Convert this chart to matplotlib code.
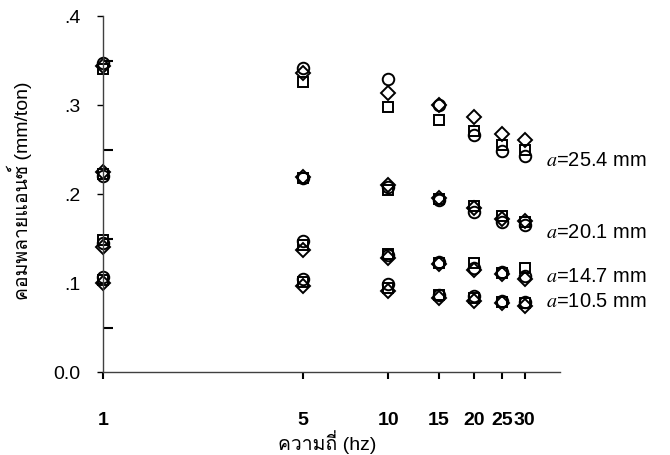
import matplotlib
matplotlib.use('Agg')
import matplotlib.pyplot as plt
from matplotlib import font_manager
from matplotlib.ticker import FixedLocator, FixedFormatter, NullFormatter

# --- datos ---
freqs = [1, 5, 10, 15, 20, 25, 30]
xtick_labels = ['1', '5', '10', '15', '20', '25', '30']

# a = 25.4 mm
a254_circle = [0.347, 0.342, 0.329, 0.300, 0.266, 0.248, 0.243]
a254_diamond = [0.344, 0.336, 0.314, 0.300, 0.286, 0.267, 0.261]
a254_square = [0.341, 0.326, 0.298, 0.283, 0.271, 0.255, 0.250]
# a = 20.1 mm
a201_circle = [0.220, 0.218, 0.208, 0.193, 0.180, 0.168, 0.165]
a201_diamond = [0.225, 0.219, 0.210, 0.195, 0.184, 0.172, 0.170]
a201_square = [0.222, 0.218, 0.205, 0.194, 0.186, 0.175, 0.168]
# a = 14.7 mm
a147_circle = [0.145, 0.147, 0.132, 0.124, 0.117, 0.112, 0.108]
a147_diamond = [0.140, 0.137, 0.128, 0.121, 0.115, 0.110, 0.105]
a147_square = [0.148, 0.143, 0.133, 0.123, 0.122, 0.111, 0.117]
# a = 10.5 mm
a105_circle = [0.107, 0.105, 0.099, 0.087, 0.085, 0.080, 0.079]
a105_diamond = [0.100, 0.097, 0.091, 0.083, 0.080, 0.077, 0.074]
a105_square = [0.103, 0.101, 0.094, 0.086, 0.083, 0.079, 0.077]

labels_a = ['25.4', '20.1', '14.7', '10.5']
label_y = [0.238, 0.157, 0.107, 0.079]

ytick_vals = [0.0, 0.1, 0.2, 0.3, 0.4]
ytick_labels = ['0.0', '.1', '.2', '.3', '.4']
yminor_vals = [0.05, 0.15, 0.25, 0.35]


def buscar_fuente_thai():
    # busca una fuente instalada que tenga glifos tailandeses
    try:
        from fontTools.ttLib import TTFont
    except ImportError:
        return None
    for f in font_manager.fontManager.ttflist:
        try:
            tt = TTFont(f.fname, fontNumber=0, lazy=True)
            cmap = tt.getBestCmap()
            if cmap and 0x0E04 in cmap:
                return f.name
        except Exception:
            continue
    return None


thai = buscar_fuente_thai()
fam = ['Liberation Sans'] + ([thai] if thai else []) + ['DejaVu Sans']
plt.rcParams['font.family'] = fam

fig = plt.figure(figsize=(6.7, 4.55), dpi=100)
ax = fig.add_axes([0.1537, 0.1824, 0.8363 - 0.1537, 0.9648 - 0.1824])

grupos = [
    (a254_circle, a254_diamond, a254_square),
    (a201_circle, a201_diamond, a201_square),
    (a147_circle, a147_diamond, a147_square),
    (a105_circle, a105_diamond, a105_square),
]
mk = dict(linestyle='none', markerfacecolor='none', markeredgecolor='black',
          markeredgewidth=1.4, clip_on=False)
for c, d, s in grupos:
    ax.plot(freqs, s, marker='s', markersize=6.8, **mk)
    ax.plot(freqs, d, marker='D', markersize=7.3, **mk)
    ax.plot(freqs, c, marker='o', markersize=8.3, **mk)

ax.set_xscale('log')
ax.set_xlim(1, 40)
ax.set_ylim(0, 0.4)

ax.xaxis.set_major_locator(FixedLocator(freqs))
ax.xaxis.set_major_formatter(FixedFormatter(xtick_labels))
ax.xaxis.set_minor_locator(FixedLocator([]))
ax.xaxis.set_minor_formatter(NullFormatter())
ax.yaxis.set_major_locator(FixedLocator(ytick_vals))
ax.yaxis.set_major_formatter(FixedFormatter(ytick_labels))
ax.yaxis.set_minor_locator(FixedLocator(yminor_vals))

for sp in ['top', 'right']:
    ax.spines[sp].set_visible(False)
for sp in ['left', 'bottom']:
    ax.spines[sp].set_color('#404040')
    ax.spines[sp].set_linewidth(1.0)

ax.tick_params(axis='x', which='major', direction='out', length=5, width=1.5,
               pad=24, labelsize=14)
for t in ax.get_xticklabels():
    t.set_fontweight('bold')
ax.tick_params(axis='y', which='major', direction='out', length=4, width=1.0,
               pad=12, labelsize=14)
ax.tick_params(axis='y', which='minor', direction='in', length=7, width=1.5)

ax.set_xlabel('ความถี่ (hz)', fontsize=14)
ax.set_ylabel('คอมพลายแอนซ์ (mm/ton)', fontsize=14)
ax.xaxis.set_label_coords(0.49, -0.163)
ax.yaxis.set_label_coords(-0.155, 0.51)

for lab, yv in zip(labels_a, label_y):
    ax.text(35.7, yv, '$\\mathit{a}$=' + lab + ' mm', fontsize=14.5,
            va='center', ha='left', math_fontfamily='stix')

fig.savefig('out.png', dpi=100)
